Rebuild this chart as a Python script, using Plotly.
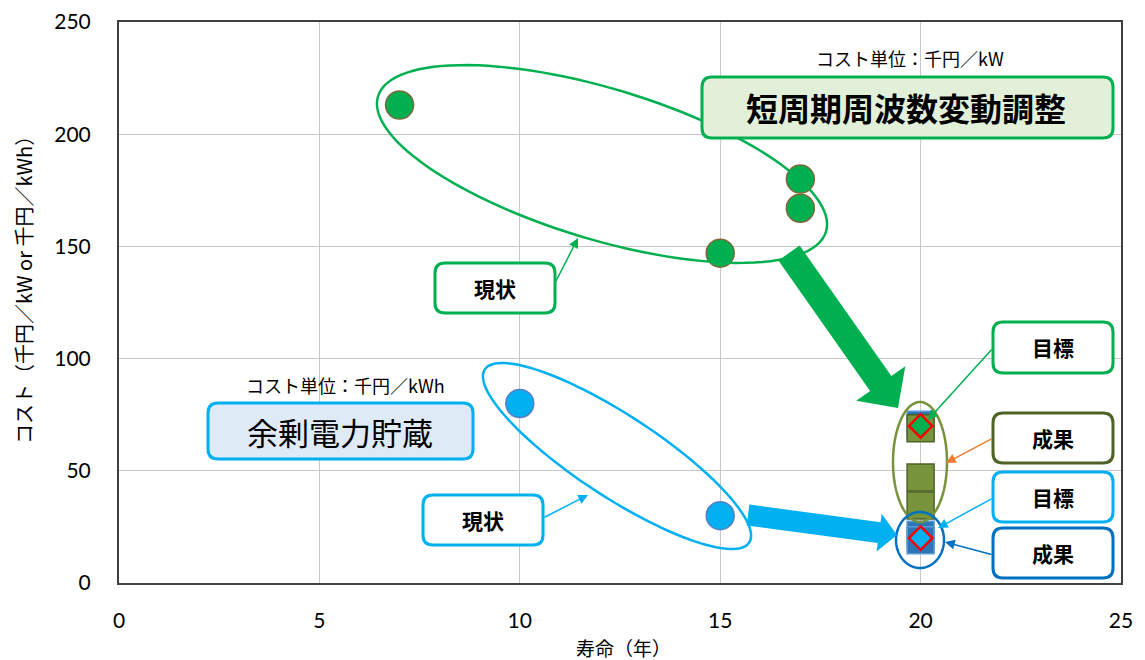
import math
import plotly.graph_objects as go

# ---------------- data ----------------
green_now_x = [7, 17, 17, 15]
green_now_y = [213, 180, 167, 147]
blue_now_x = [10, 15]
blue_now_y = [80, 30]
blue_result_x = [20, 20, 20]
blue_result_y = [70.5, 21.5, 19]
green_result_x = [20, 20, 20]
green_result_y = [69, 47, 34.5]
green_target_x = [20]
green_target_y = [70]
blue_target_x = [20]
blue_target_y = [20]
x_ticks = [0, 5, 10, 15, 20, 25]
y_ticks = [0, 50, 100, 150, 200, 250]
x_title = "寿命（年）"
y_title = "コスト（千円／kW or 千円／kWh）"

# ---------------- layout helpers ----------------
OFF = 8                      # page body margin
W, H = 1145 - OFF, 660 - OFF
PL, PR, PT, PB = 119, 1121, 22, 583   # plot area in page pixels
L, T = PL - OFF, PT - OFF
R = W + OFF - PR
B = H + OFF - PB
XR = (0, 25)
YR = (0, 250)
PW = PR - PL
PH = PB - PT

def dx(px):
    return XR[0] + (px - PL) / PW * (XR[1] - XR[0])

def dy(py):
    return YR[0] + (PB - py) / PH * (YR[1] - YR[0])

def pt(p):
    return f"{dx(p[0]):.4f},{dy(p[1]):.4f}"

def poly_path(points):
    s = "M " + pt(points[0])
    for p in points[1:]:
        s += " L " + pt(p)
    return s + " Z"

def ellipse_path(cx, cy, a, b, th_deg, n=120):
    th = math.radians(th_deg)
    pts = []
    for i in range(n):
        t = 2 * math.pi * i / n
        x = cx + a * math.cos(t) * math.cos(th) - b * math.sin(t) * math.sin(th)
        y = cy + a * math.cos(t) * math.sin(th) + b * math.sin(t) * math.cos(th)
        pts.append((x, y))
    return poly_path(pts)

def rrect_path(x0, y0, x1, y1, r=10):
    return (f"M {pt((x0 + r, y0))} L {pt((x1 - r, y0))} Q {pt((x1, y0))} {pt((x1, y0 + r))} "
            f"L {pt((x1, y1 - r))} Q {pt((x1, y1))} {pt((x1 - r, y1))} "
            f"L {pt((x0 + r, y1))} Q {pt((x0, y1))} {pt((x0, y1 - r))} "
            f"L {pt((x0, y0 + r))} Q {pt((x0, y0))} {pt((x0 + r, y0))} Z")

def block_arrow(tail, tip, shw, hhw, hl):
    ux, uy = tip[0] - tail[0], tip[1] - tail[1]
    ln = math.hypot(ux, uy)
    ux, uy = ux / ln, uy / ln
    nx, ny = -uy, ux
    bx, by = tip[0] - ux * hl, tip[1] - uy * hl
    pts = [
        (tail[0] + nx * shw, tail[1] + ny * shw),
        (bx + nx * shw, by + ny * shw),
        (bx + nx * hhw, by + ny * hhw),
        tip,
        (bx - nx * hhw, by - ny * hhw),
        (bx - nx * shw, by - ny * shw),
        (tail[0] - nx * shw, tail[1] - ny * shw),
    ]
    return poly_path(pts)

GREEN = "#00B050"
CYAN = "#00B0F0"
OLIVE = "#77933C"
OLIVE_D = "#4F6228"
BLUE = "#0070C0"
CJK = "Noto Sans CJK JP"

fig = go.Figure()

fig.add_trace(go.Scatter(x=green_now_x, y=green_now_y, mode="markers",
                         marker=dict(symbol="circle", size=28, color=GREEN,
                                     line=dict(color="#7A6A3A", width=1.5)),
                         showlegend=False, hoverinfo="skip"))
fig.add_trace(go.Scatter(x=blue_now_x, y=blue_now_y, mode="markers",
                         marker=dict(symbol="circle", size=28, color=CYAN,
                                     line=dict(color="#5A7EC2", width=1.5)),
                         showlegend=False, hoverinfo="skip"))
fig.add_trace(go.Scatter(x=blue_result_x, y=blue_result_y, mode="markers",
                         marker=dict(symbol="square", size=27, color="#2E75B6",
                                     line=dict(color="#5B9BD5", width=1.5)),
                         showlegend=False, hoverinfo="skip"))
fig.add_trace(go.Scatter(x=green_result_x, y=green_result_y, mode="markers",
                         marker=dict(symbol="square", size=27, color=OLIVE,
                                     line=dict(color=OLIVE_D, width=1.5)),
                         showlegend=False, hoverinfo="skip"))
fig.add_trace(go.Scatter(x=green_target_x, y=green_target_y, mode="markers",
                         marker=dict(symbol="diamond", size=18, color=GREEN,
                                     line=dict(color="#FF0000", width=2.5)),
                         showlegend=False, hoverinfo="skip"))
fig.add_trace(go.Scatter(x=blue_target_x, y=blue_target_y, mode="markers",
                         marker=dict(symbol="diamond", size=18, color=CYAN,
                                     line=dict(color="#FF0000", width=2.5)),
                         showlegend=False, hoverinfo="skip"))

shapes = []
# ellipses
shapes.append(dict(type="path", path=ellipse_path(602, 164, 234, 75.4, 16.8),
                   line=dict(color=GREEN, width=2.5), layer="above"))
shapes.append(dict(type="path", path=ellipse_path(617, 456, 158, 40.8, 33.2),
                   line=dict(color=CYAN, width=2.5), layer="above"))
shapes.append(dict(type="path", path=ellipse_path(920, 462, 27, 60, 0),
                   line=dict(color=OLIVE, width=2.5), layer="above"))
shapes.append(dict(type="path", path=ellipse_path(920, 540, 24, 28, 0),
                   line=dict(color=BLUE, width=2.5), layer="above"))
# block arrows
shapes.append(dict(type="path", path=block_arrow((789, 253), (898, 408), 13, 30, 30),
                   fillcolor=GREEN, line=dict(width=0), layer="above"))
shapes.append(dict(type="path", path=block_arrow((748, 515), (897, 535), 10.5, 19, 18),
                   fillcolor=CYAN, line=dict(width=0), layer="above"))
# rounded boxes
boxes = [
    ((702, 77, 1113, 138), "#E2F0D9", GREEN),
    ((208, 403, 473, 459), "#DEEBF7", CYAN),
    ((435, 263, 555, 313), "#FFFFFF", GREEN),
    ((423, 495, 543, 545), "#FFFFFF", CYAN),
    ((993, 322, 1113, 373), "#FFFFFF", GREEN),
    ((993, 413, 1113, 463), "#FFFFFF", OLIVE_D),
    ((993, 472, 1113, 522), "#FFFFFF", CYAN),
    ((993, 528, 1113, 578), "#FFFFFF", BLUE),
]
for (x0, y0, x1, y1), fc, lc in boxes:
    shapes.append(dict(type="path", path=rrect_path(x0, y0, x1, y1, 10),
                       fillcolor=fc, line=dict(color=lc, width=3), layer="above"))

annotations = []
def text(px, py, s, size, bold=False, color="black"):
    annotations.append(dict(x=dx(px), y=dy(py), xref="x", yref="y", text=(f"<b>{s}</b>" if bold else s),
                            showarrow=False, font=dict(family=CJK, size=size, color=color),
                            xanchor="center", yanchor="middle"))

text(906, 107, "短周期周波数変動調整", 32, bold=True)
text(910, 58, "コスト単位：千円／kW", 18)
text(340, 431, "余剰電力貯蔵", 31)
text(345, 385, "コスト単位：千円／kWh", 18)
text(495, 288, "現状", 21, bold=True)
text(483, 520, "現状", 21, bold=True)
text(1053, 347, "目標", 21, bold=True)
text(1053, 438, "成果", 21, bold=True)
text(1053, 497, "目標", 21, bold=True)
text(1053, 553, "成果", 21, bold=True)

def thin_arrow(tail, tip, color):
    annotations.append(dict(x=dx(tip[0]), y=dy(tip[1]), ax=dx(tail[0]), ay=dy(tail[1]),
                            xref="x", yref="y", axref="x", ayref="y", text="",
                            showarrow=True, arrowhead=2, arrowsize=1.3, arrowwidth=1.5,
                            arrowcolor=color, standoff=0, startstandoff=0))

thin_arrow((555, 283), (578, 238), GREEN)
thin_arrow((543, 518), (588, 495), CYAN)
thin_arrow((993, 348), (928, 420), GREEN)
thin_arrow((993, 438), (946, 463), "#ED7D31")
thin_arrow((993, 498), (938, 528), CYAN)
thin_arrow((993, 555), (945, 542), BLUE)

# axis titles (page pixel positions converted to paper fractions)
annotations.append(dict(x=(623 - PL) / PW, y=(PB - 647) / PH, xref="paper", yref="paper",
                        text=x_title, showarrow=False, font=dict(family=CJK, size=19, color="black"),
                        xanchor="center", yanchor="middle"))
annotations.append(dict(x=(23 - PL) / PW, y=(PB - 285) / PH, xref="paper", yref="paper",
                        text=y_title, textangle=-90, showarrow=False,
                        font=dict(family=CJK, size=20, color="black"),
                        xanchor="center", yanchor="middle"))

fig.update_layout(
    width=W, height=H,
    margin=dict(l=L, r=R, t=T, b=B, autoexpand=False),
    paper_bgcolor="white", plot_bgcolor="white",
    shapes=shapes, annotations=annotations,
    showlegend=False,
    xaxis=dict(range=list(XR), tickvals=x_ticks, ticktext=[str(v) for v in x_ticks],
               showgrid=True, gridcolor="#C8C8C8", gridwidth=1, zeroline=False,
               showline=True, linecolor="#404040", linewidth=2, mirror=True,
               ticks="", ticklabelstandoff=18, automargin=False,
               tickfont=dict(family="Lato", size=21, color="black")),
    yaxis=dict(range=list(YR), tickvals=y_ticks, ticktext=[str(v) for v in y_ticks],
               showgrid=True, gridcolor="#C8C8C8", gridwidth=1, zeroline=False,
               showline=True, linecolor="#404040", linewidth=2, mirror=True,
               ticks="", ticklabelstandoff=22, automargin=False,
               tickfont=dict(family="Lato", size=21, color="black")),
)

fig.write_html("out.html")
